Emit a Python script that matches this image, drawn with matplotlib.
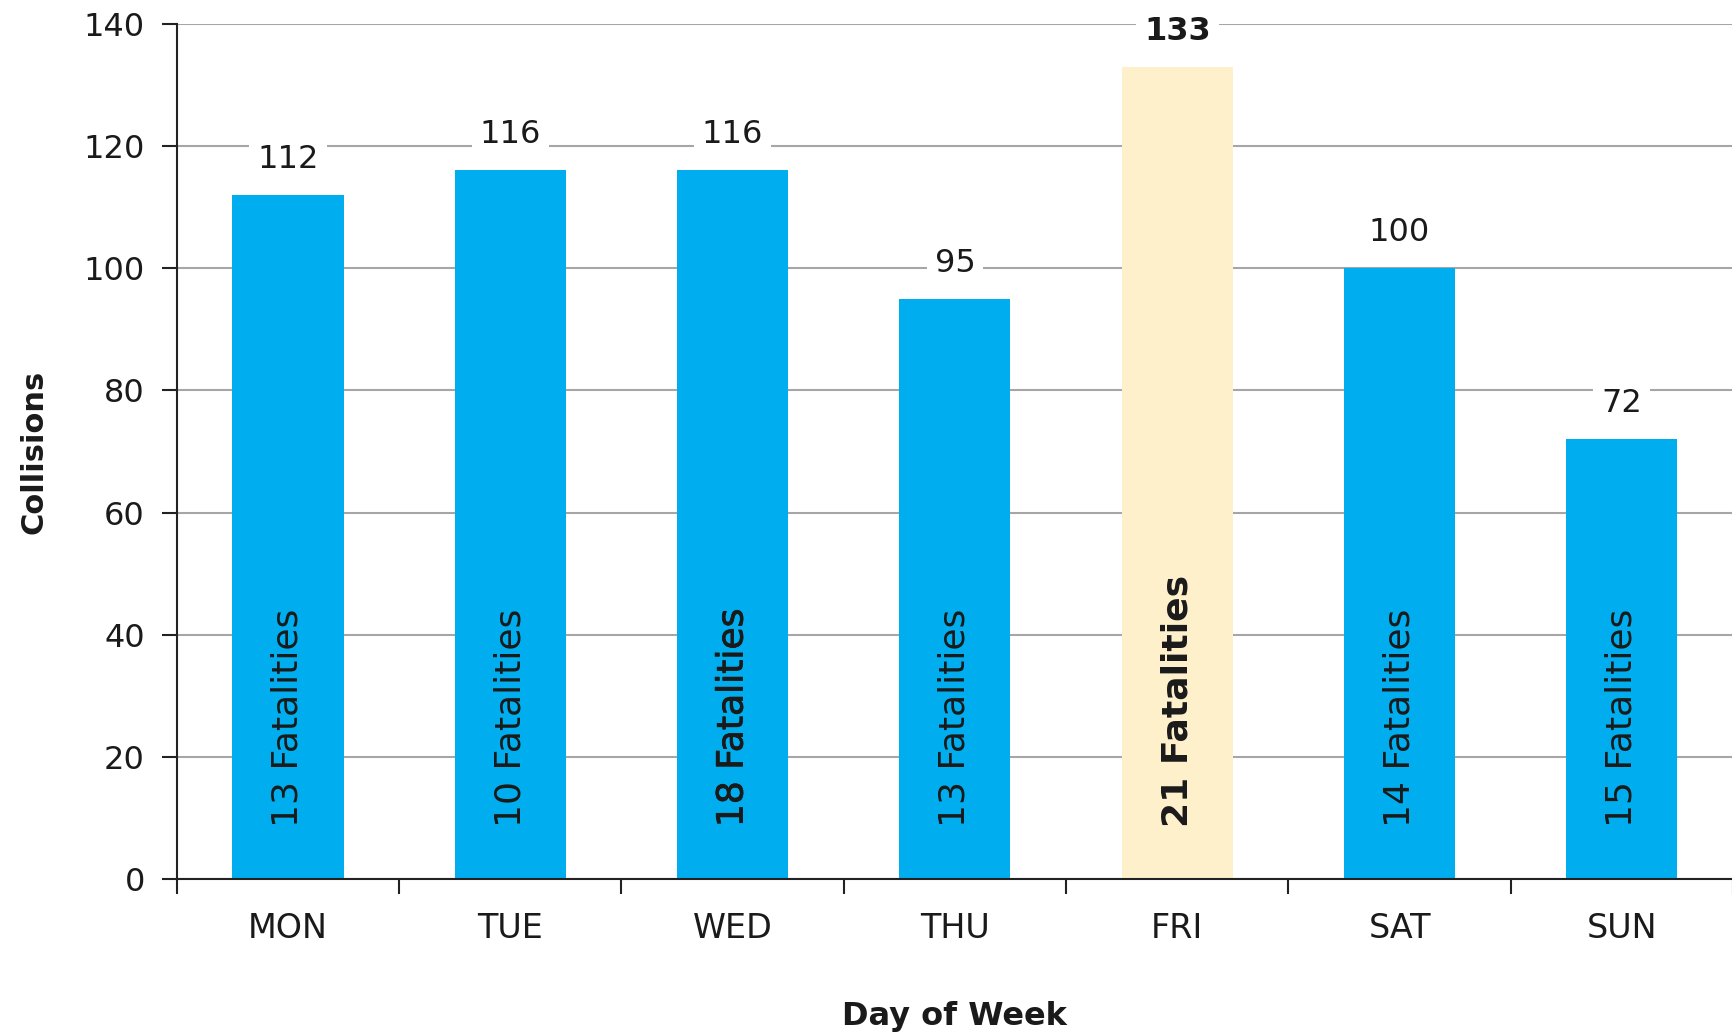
import matplotlib
matplotlib.use("Agg")
import matplotlib.pyplot as plt
import matplotlib.patheffects as pe
import numpy as np

# Collisions by day of week, with fatality counts
days = ["MON", "TUE", "WED", "THU", "FRI", "SAT", "SUN"]
collisions = [112, 116, 116, 95, 133, 100, 72]
fatalities = [13, 10, 18, 13, 21, 14, 15]
highlight = "FRI"

plt.rcParams["font.family"] = ["DejaVu Sans"]

blue = "#00AEEF"
yellow = "#FFF0CC"
text_col = "#1a1a1a"

fig = plt.figure(figsize=(17.33, 10.33), dpi=100)
ax = fig.add_axes([0.102, 0.149, 0.898, 0.828])

x = np.arange(len(days))
colors = [yellow if d == highlight else blue for d in days]
ax.bar(x, collisions, width=0.5, color=colors, zorder=2)

# value labels above bars, white box hides the gridline behind
for xi, d, v, f in zip(x, days, collisions, fatalities):
    bold = d == highlight
    ax.text(xi, v + 5.8, str(v), ha="center", va="center", fontsize=23,
            fontweight="bold" if bold else "normal", color=text_col, zorder=3,
            bbox=dict(boxstyle="square,pad=0.25", fc="white", ec="none"))
    t = ax.text(xi, 8.5, f"{f} Fatalities", rotation=90, ha="center", va="bottom",
                fontsize=26, fontweight="bold" if bold else "normal",
                color=text_col, zorder=3)
    if d == "WED":
        # WED label is a touch heavier than the others
        t.set_path_effects([pe.withStroke(linewidth=0.6, foreground=text_col)])

ax.set_xlim(-0.5, len(days) - 0.5)
ax.set_ylim(0, 140)
ax.set_yticks(range(0, 141, 20))
ax.yaxis.grid(True, color="#a6a6a6", lw=1.5, zorder=0)
ax.set_axisbelow(True)

ax.set_xticks(x)
ax.set_xticklabels(days)
ax.set_xticks(np.arange(-0.5, len(days) - 0.4, 1), minor=True)
ax.tick_params(axis="x", which="major", length=0, pad=24, labelsize=24, labelcolor=text_col)
ax.tick_params(axis="x", which="minor", length=11, width=1.5, direction="out", color="#222222")
ax.tick_params(axis="y", length=11, width=1.5, pad=12, labelsize=23, labelcolor=text_col, color="#222222")

for s in ["top", "right"]:
    ax.spines[s].set_visible(False)
for s in ["left", "bottom"]:
    ax.spines[s].set_linewidth(1.5)
    ax.spines[s].set_color("#222222")

ax.set_xlabel("Day of Week", fontsize=23, fontweight="bold", labelpad=40, color=text_col)
ax.set_ylabel("Collisions", fontsize=22, fontweight="bold", labelpad=25, color=text_col)

fig.savefig("out.png", dpi=100)
